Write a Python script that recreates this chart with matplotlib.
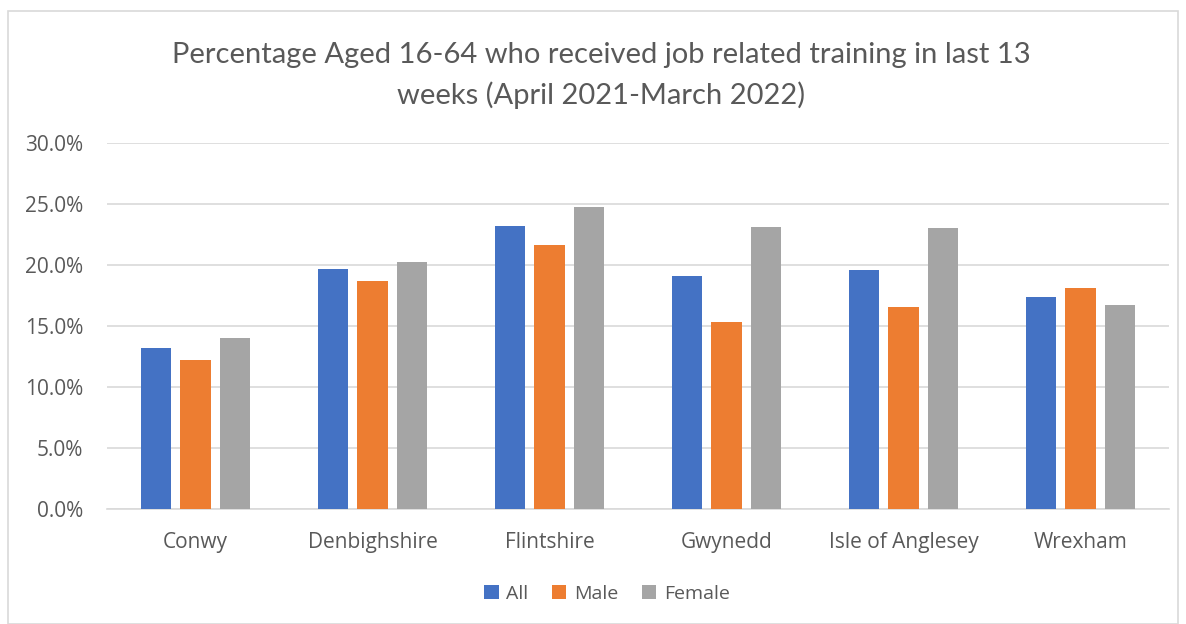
import matplotlib.pyplot as plt
import numpy as np
from matplotlib.patches import Rectangle
from matplotlib.ticker import PercentFormatter

areas = ["Conwy", "Denbighshire", "Flintshire", "Gwynedd", "Isle of Anglesey", "Wrexham"]
all_pct = [13.2, 19.7, 23.2, 19.1, 19.6, 17.4]
male_pct = [12.2, 18.7, 21.6, 15.35, 16.55, 18.1]
female_pct = [14.0, 20.2, 24.7, 23.1, 23.0, 16.7]

series = [("All", all_pct, "#4472C4"), ("Male", male_pct, "#ED7D31"), ("Female", female_pct, "#A5A5A5")]

W, H = 1186, 624
fig = plt.figure(figsize=(W / 100, H / 100), dpi=100)
fig.patches.append(Rectangle((8 / W, 0), (1178 - 8) / W, 1 - 11 / H, transform=fig.transFigure,
                             fill=False, edgecolor="#D9D9D9", linewidth=1.2))

ax = fig.add_axes([107 / W, 1 - 509.3 / H, (1169 - 107) / W, (509.3 - 142.7) / H])

x = np.arange(len(areas))
width = 0.172
step = 0.222
for i, (name, vals, col) in enumerate(series):
    ax.bar(x + (i - 1) * step, vals, width, color=col, label=name, zorder=3)

ax.set_xlim(-0.5, len(areas) - 0.5)
ax.set_ylim(0, 30)
ax.set_yticks(np.arange(0, 31, 5))
ax.yaxis.set_major_formatter(PercentFormatter(decimals=1))
ax.grid(axis="y", color="#D9D9D9", linewidth=1.2, zorder=0)
for s in ["top", "right", "left"]:
    ax.spines[s].set_visible(False)
ax.spines["bottom"].set_color("#D9D9D9")
ax.spines["bottom"].set_linewidth(1.2)
ax.tick_params(axis="both", length=0, labelsize=15, labelcolor="#595959")
ax.tick_params(axis="x", pad=16)
ax.tick_params(axis="y", pad=17)
ax.set_xticks(x)
ax.set_xticklabels(areas, fontfamily="Open Sans")
for lab in ax.get_yticklabels():
    lab.set_fontfamily("Open Sans")

fig.text(601 / W, 1 - 55 / H, "Percentage Aged 16-64 who received job related training in last 13",
         ha="center", va="center", fontsize=21, color="#595959", fontfamily="Lato")
fig.text(601 / W, 1 - 95 / H, "weeks (April 2021-March 2022)",
         ha="center", va="center", fontsize=21, color="#595959", fontfamily="Lato")

fig.legend(loc="center", bbox_to_anchor=(607 / W, 1 - 594 / H), ncol=3, frameon=False,
           prop={"family": "Open Sans", "size": 14}, labelcolor="#595959",
           handlelength=0.75, handleheight=0.75, handletextpad=0.4, columnspacing=1.2)

fig.savefig("out.png", dpi=100)
